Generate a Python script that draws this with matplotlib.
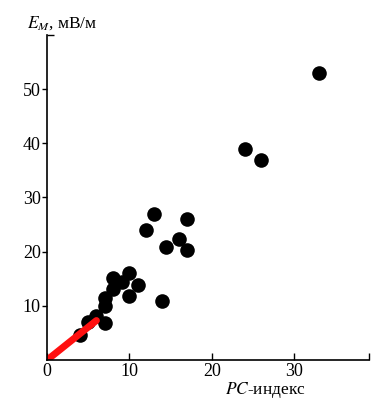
import matplotlib
matplotlib.use('Agg')
import matplotlib.pyplot as plt

plt.rcParams['font.family'] = ['Liberation Serif', 'DejaVu Serif']
plt.rcParams['mathtext.fontset'] = 'stix'

# PC-index vs E_M (mV/m)
pc_index = [33, 24, 26, 13, 17, 12, 16, 14.5, 17,
            8, 10, 11.1, 9.1, 8, 10, 7, 7, 6, 7, 5, 4, 14]
e_m = [53, 39, 37, 26.9, 26, 24, 22.4, 20.9, 20.4,
       15.2, 16.1, 13.9, 14.4, 13.2, 11.8, 11.4, 9.9, 8.2, 6.9, 7.0, 4.7, 10.9]

# regression segment
fit_x = [0, 6]
fit_y = [0, 7.3]

fig = plt.figure(figsize=(3.9, 4.01), dpi=100)
ax = fig.add_axes([0.1205, 0.102, 0.826, 0.811])

ax.plot(pc_index, e_m, 'o', color='black', markersize=10.5, markeredgewidth=0)
ax.plot(fit_x, fit_y, '-', color='#ff1010', lw=5, solid_capstyle='round')

ax.set_xlim(0, 39.1)
ax.set_ylim(0, 60)
ax.set_xticks([0, 10, 20, 30])
ax.set_yticks([10, 20, 30, 40, 50])
ax.set_xticks([39.1], minor=True)
ax.set_yticks([60], minor=True)
ax.tick_params(axis='x', which='both', direction='in', length=5, width=1, labelsize=13, pad=2)
ax.tick_params(axis='y', which='major', direction='out', length=3.5, width=1, labelsize=13, pad=1)
ax.tick_params(axis='y', which='minor', direction='in', length=5, width=1)
for s in ['top', 'right']:
    ax.spines[s].set_visible(False)
for s in ['left', 'bottom']:
    ax.spines[s].set_linewidth(1.2)

fig.text(0.068, 0.930, r'$E_M$, мВ/м', fontsize=12.5, ha='left', va='baseline')
fig.text(0.68, 0.017, r'$PC$-индекс', fontsize=12.5, ha='center', va='baseline')

fig.savefig('out.png', dpi=100)
